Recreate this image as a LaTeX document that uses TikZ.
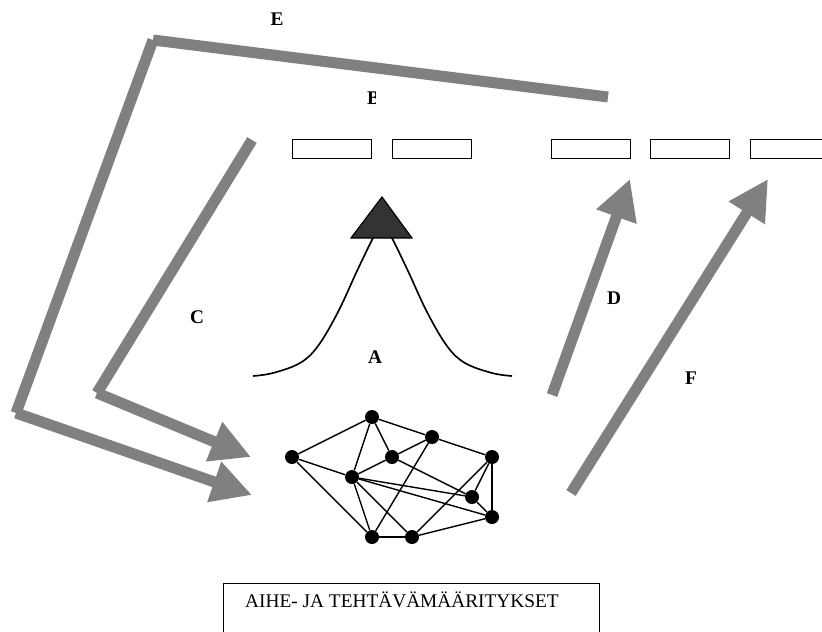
\documentclass[tikz,border=0pt]{standalone}
\usepackage{fontspec}
\setmainfont{Liberation Serif}
\usepackage{tikz}
\usetikzlibrary{arrows.meta}

\begin{document}
\begin{tikzpicture}[x=0.03cm,y=-0.03cm,
    bar/.style={draw=gray,line width=0.33cm},
    barhead/.style={bar,-{Triangle[length=1.2cm,width=1.2cm]}},
    dot/.style={circle,fill=black,inner sep=0pt,minimum size=0.42cm},
    slot/.style={draw,line width=1.1pt,inner sep=0pt,minimum width=2.36cm,minimum height=0.58cm},
    tag/.style={font=\fontsize{16.5}{18}\selectfont\bfseries}]
  \clip (0,0) rectangle (822,631);

  % row of empty slots
  \foreach \n/\x in {1/332,2/432,3/591,4/690,5/790}
    \node[slot] (slot\n) at (\x,149) {};

  % peak: bell curve with the marker on top
  \draw[line width=1.4pt] plot[smooth,tension=0.6] coordinates {
    (253,376) (273,373) (300,363) (318,346) (338,312) (357,271) (373,238)
    (382.5,222)
    (392,238) (408,271) (427,312) (447,346) (465,363) (492,373) (512,376)};
  \draw[line width=1pt,fill=black!80] (351,238) -- (382,197) -- (412,238) -- cycle;

  % network
  \node[dot] (v1) at (292,457) {};
  \node[dot] (v2) at (372,417) {};
  \node[dot] (v3) at (432,437) {};
  \node[dot] (v4) at (392,457) {};
  \node[dot] (v5) at (352,477) {};
  \node[dot] (v6) at (492,457) {};
  \node[dot] (v7) at (472,497) {};
  \node[dot] (v8) at (492,517) {};
  \node[dot] (v9) at (372,537) {};
  \node[dot] (v10) at (412,537) {};
  \foreach \a/\b in {v1/v2,v1/v5,v1/v9,v2/v3,v2/v4,v2/v5,v3/v4,v3/v6,v3/v9,
      v4/v5,v4/v7,v5/v7,v5/v8,v5/v9,v5/v10,v6/v7,v6/v8,v6/v10,v7/v8,v9/v10,v10/v8}
    \draw[line width=1.2pt] (\a) -- (\b);

  % long way round (E)
  \coordinate (e0) at (608,97);
  \coordinate (e1) at (153,40);
  \coordinate (e2) at (16,413);
  \coordinate (e3) at (252,495);
  \draw[bar] (e0) -- (e1);
  \draw[bar] (e1) -- (e2);
  \draw[barhead] (e2) -- (e3);

  % back down (C)
  \coordinate (c0) at (252,140);
  \coordinate (c1) at (97,393);
  \coordinate (c2) at (251,457);
  \draw[bar] (c0) -- (c1);
  \draw[barhead] (c1) -- (c2);

  % up to the slots (D, F)
  \coordinate (d0) at (552,395);
  \coordinate (f0) at (571,493);
  \draw[barhead] (d0) -- (630,179);
  \draw[barhead] (f0) -- (768,179);

  % labels
  \node[tag] (lblE) at (277,19) {E};
  \node[tag] (lblC) at (197,317) {C};
  \node[tag] (lblA) at (375,357) {A};
  \node[tag] (lblD) at (614,298) {D};
  \node[tag] (lblF) at (691,378) {F};
  \begin{scope}
    \clip (355,85) rectangle (375,112);
    \node[tag,anchor=west,inner sep=0pt] (lblB) at (367,98.5) {B};
  \end{scope}

  % caption box
  \node[draw,line width=0.9pt,anchor=north west,inner sep=0pt,
    minimum width=11.28cm,minimum height=2cm] (task) at (223,583) {};
  \node[anchor=base west,inner sep=0pt,font=\fontsize{16.5}{18}\selectfont]
    (taskname) at (245,607) {AIHE- JA TEHTÄVÄMÄÄRITYKSET};
\end{tikzpicture}
\end{document}
